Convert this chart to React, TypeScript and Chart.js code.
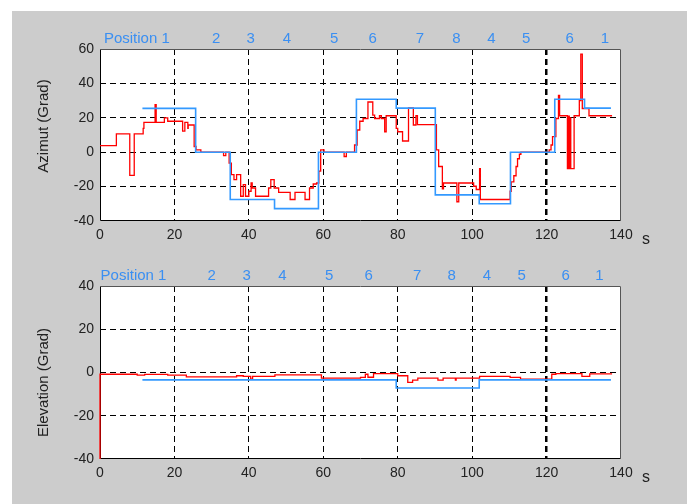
import React, { useEffect, useRef } from 'react';
import { Chart, registerables } from 'chart.js';
Chart.register(...registerables);

// ---------- data ----------
const xMin = 0;
const xMax = 140;
const xStep = 20;
const azMin = -40;
const azMax = 60;
const elMin = -40;
const elMax = 40;
const yStep = 20;
const markerX = 120;

const posLabels = ['Position 1', '2', '3', '4', '5', '6', '7', '8', '4', '5', '6', '1'];
const posXTop = [9.9, 31.2, 40.5, 50.2, 62.9, 73.3, 86.0, 95.8, 105.2, 114.5, 126.2, 135.7];
const posXBottom = [9.0, 30.0, 39.4, 49.0, 61.6, 72.2, 85.2, 94.5, 104.0, 113.3, 125.1, 134.2];

// Azimuth: target (blue) step series
const azTargetT = [11.4, 25.7, 35.0, 46.9, 58.7, 68.9, 79.6, 90.1, 101.9, 110.3, 122.2, 130.2, 137.3];
const azTargetV = [25.5, 0, -27.5, -32.8, 0, 30.8, 25.6, -24.8, -30, 0, 30.8, 25.6, 25.6];

// Azimuth: measured (red) step series
const azMeasT = [
  0, 4.4, 8.0, 9.2, 11.6, 11.8, 14.8, 15.1, 17.3, 18.2, 22.2, 22.8, 23.6, 23.7, 25.3, 25.8, 27.1,
  33.2, 33.8, 34.7, 35.3, 36.0, 36.7, 37.8, 38.5, 39.1, 40.0, 40.6, 40.9, 41.8, 45.3, 45.9, 46.8,
  48.0, 51.1, 52.4, 55.1, 56.3, 57.3, 58.2, 58.8, 59.3, 60.2, 65.6, 66.2, 68.4, 69.1, 69.8, 70.7,
  72.0, 73.3, 73.8, 75.1, 75.6, 76.5, 76.9, 79.6, 80.0, 81.3, 82.9, 84.2, 84.9, 85.3, 90.4, 91.0,
  92.0, 92.3, 95.9, 96.4, 100.4, 101.1, 102.0, 102.2, 110.2, 110.5, 111.2, 111.8, 112.2, 112.7,
  113.1, 120.7, 121.2, 121.6, 122.5, 123.2, 123.5, 125.6, 125.9, 126.1, 126.4, 126.5, 127.4,
  128.8, 129.2, 129.6, 131.4, 137.6,
];
const azMeasV = [
  3.8, 10.6, -13.5, 10.6, 13.8, 17.3, 27.7, 17.3, 20, 18, 12.3, 17.3, 13.8, 15.8, 3.3, 1.3, 0,
  -2, 0, -6.3, -13, -16, -13, -25.6, -18.8, -25.6, -22.7, -17.9, -20.8, -25.6, -20.8, -16, -20.8,
  -23.3, -27.5, -23.3, -27.5, -20.8, -18.5, -17.9, -11, 1.3, 0, -2.5, 0, 4.2, 12.9, 18, 19.6,
  29.2, 21.5, 19.6, 21.2, 19.6, 11.9, 21.2, 13.8, 11.9, 6.5, 25.8, 15.8, 21.2, 16, 1.3, -8.3,
  -21.3, -17.9, -28.8, -17.9, -19.8, -21.7, -9.6, -27.5, -22.7, -17.3, -13.7, -8.3, -3.8, -1.2,
  0, 1.3, 4.2, 9, 19.6, 33, 21.2, -9.6, 21, -9.6, 20, -9.6, 21.2,
  30, 57, 25.4, 21.2, 21.2,
];

// Elevation: target (blue)
const elTargetT = [11.4, 79.6, 101.9, 137.3];
const elTargetV = [-3.4, -7.2, -3.4, -3.4];

// Elevation: measured (red)
const elMeasT = [
  0, 0, 10, 12, 18.2, 23.2, 36.7, 38.5, 40.5, 41, 47, 59.5, 70, 71.3, 72, 73.5, 80, 82.7, 84,
  85.4, 90.8, 92.2, 95.5, 95.7, 102, 110.2, 113, 121.4, 122.5, 129.5, 131.6, 137.6,
];
const elMeasV = [
  -40, -0.8, -1.2, -0.9, -1.2, -2, -1.5, -1.8, -3.1, -1.8, -1.1, -2.6, -2.3, -0.8, -2.2, -0.5, -1.5,
  -4.6, -3.5, -2.6, -3.5, -2.6, -3.5, -2.6, -1.8, -2.3, -3.1, -0.8, -0.5, -1.8, -0.6, -0.6,
];

// ---------- helpers ----------
const FONT = "'Liberation Sans', Arial, Helvetica, sans-serif";
const BLUE = '#3399ff';
const LABEL_BLUE = '#3a8ff2';
const RED = '#ff0000';

function pts(t: number[], v: number[]) {
  return t.map((x, i) => ({ x, y: v[i] }));
}

type PanelCfg = {
  width: number;
  height: number;
  area: { left: number; top: number; right: number; bottom: number };
  yMin: number;
  yMax: number;
  yTitle: string;
  titleX: number;
  titleY: number;
  posX: number[];
  target: { x: number; y: number }[];
  measured: { x: number; y: number }[];
};

function makeConfig(p: PanelCfg): any {
  const decor = {
    id: 'decor',
    beforeDraw(chart: any) {
      const { ctx, chartArea: a } = chart;
      ctx.save();
      ctx.fillStyle = '#ffffff';
      ctx.fillRect(a.left, a.top, a.right - a.left, a.bottom - a.top);
      ctx.restore();
    },
    beforeDatasetsDraw(chart: any) {
      const { ctx, chartArea: a } = chart;
      const l = Math.round(a.left) + 0.5;
      const r = Math.round(a.right) - 0.5;
      const t = Math.round(a.top) + 0.5;
      const b = Math.round(a.bottom) - 0.5;
      ctx.save();
      ctx.lineWidth = 1;
      ctx.strokeStyle = '#555555';
      ctx.beginPath();
      ctx.moveTo(l, t);
      ctx.lineTo(r, t);
      ctx.lineTo(r, b);
      ctx.stroke();
      ctx.strokeStyle = '#000000';
      ctx.beginPath();
      ctx.moveTo(l, t);
      ctx.lineTo(l, b);
      ctx.lineTo(r, b);
      ctx.stroke();
      ctx.restore();
    },
    afterDraw(chart: any) {
      const { ctx, chartArea: a, scales } = chart;
      ctx.save();
      // position labels
      ctx.fillStyle = LABEL_BLUE;
      ctx.font = `15px ${FONT}`;
      ctx.textAlign = 'center';
      ctx.textBaseline = 'alphabetic';
      posLabels.forEach((lab, i) => {
        ctx.fillText(lab, scales.x.getPixelForValue(p.posX[i]), a.top - 6);
      });
      // unit label
      ctx.fillStyle = '#222222';
      ctx.font = `16px ${FONT}`;
      ctx.textAlign = 'left';
      ctx.fillText('s', 642, a.bottom + 23);
      // y title
      ctx.font = `15px ${FONT}`;
      ctx.translate(p.titleX, p.titleY);
      ctx.rotate(-Math.PI / 2);
      ctx.textAlign = 'center';
      ctx.textBaseline = 'middle';
      ctx.fillText(p.yTitle, 0, 0);
      ctx.restore();
    },
  };

  const gridColor = (min: number, max: number) => (c: any) =>
    c.tick && (c.tick.value === min || c.tick.value === max) ? 'rgba(0,0,0,0)' : '#000000';

  return {
    type: 'line',
    data: {
      datasets: [
        {
          data: p.target,
          borderColor: BLUE,
          borderWidth: 1.6,
          pointRadius: 0,
          stepped: 'before',
          fill: false,
          clip: false,
        },
        {
          data: p.measured,
          borderColor: RED,
          borderWidth: 1.3,
          pointRadius: 0,
          stepped: 'before',
          fill: false,
          clip: false,
        },
      ],
    },
    options: {
      responsive: false,
      animation: false,
      events: [],
      layout: {
        padding: { left: 0, top: p.area.top, right: p.width - p.area.right, bottom: 0 },
      },
      plugins: { legend: { display: false }, tooltip: { enabled: false }, title: { display: false } },
      scales: {
        x: {
          type: 'linear',
          min: xMin,
          max: xMax,
          afterFit: (s: any) => {
            s.height = p.height - p.area.bottom;
          },
          ticks: {
            stepSize: xStep,
            padding: 6,
            color: '#222222',
            font: { family: FONT, size: 14 },
            maxRotation: 0,
          },
          grid: {
            drawTicks: false,
            color: gridColor(xMin, xMax),
            lineWidth: (c: any) => (c.tick && c.tick.value === markerX ? 2.5 : 1),
          },
          border: { display: false, dash: [6, 4] },
        },
        y: {
          type: 'linear',
          min: p.yMin,
          max: p.yMax,
          afterFit: (s: any) => {
            s.width = p.area.left;
          },
          ticks: {
            stepSize: yStep,
            padding: 6,
            color: '#222222',
            font: { family: FONT, size: 14 },
          },
          grid: {
            drawTicks: false,
            color: gridColor(p.yMin, p.yMax),
            lineWidth: 1,
          },
          border: { display: false, dash: [6, 4] },
        },
      },
    },
    plugins: [decor],
  };
}

function Panel({ cfg, top }: { cfg: PanelCfg; top: number }) {
  const ref = useRef<HTMLCanvasElement | null>(null);
  useEffect(() => {
    if (!ref.current) return;
    const chart = new Chart(ref.current, makeConfig(cfg));
    return () => chart.destroy();
  }, []);
  return (
    <canvas
      ref={ref}
      width={cfg.width}
      height={cfg.height}
      style={{ position: 'absolute', left: 0, top, width: cfg.width, height: cfg.height, display: 'block' }}
    />
  );
}

export default function App() {
  const W = 687;
  const topCfg: PanelCfg = {
    width: W,
    height: 258,
    area: { left: 100, top: 49, right: 621, bottom: 221 },
    yMin: azMin,
    yMax: azMax,
    yTitle: 'Azimut (Grad)',
    titleX: 44,
    titleY: 126,
    posX: posXTop,
    target: pts(azTargetT, azTargetV),
    measured: pts(azMeasT, azMeasV),
  };
  const botCfg: PanelCfg = {
    width: W,
    height: 246,
    area: { left: 100, top: 28, right: 621, bottom: 201 },
    yMin: elMin,
    yMax: elMax,
    yTitle: 'Elevation (Grad)',
    titleX: 44,
    titleY: 124.5,
    posX: posXBottom,
    target: pts(elTargetT, elTargetV),
    measured: pts(elMeasT, elMeasV),
  };
  return (
    <div style={{ position: 'fixed', left: 0, top: 0, width: 687, height: 504, background: '#ffffff', overflow: 'hidden' }}>
      <div style={{ position: 'absolute', left: 12, top: 11, width: 675, height: 493, background: '#cccccc' }} />
      <Panel cfg={topCfg} top={0} />
      <Panel cfg={botCfg} top={258} />
    </div>
  );
}
